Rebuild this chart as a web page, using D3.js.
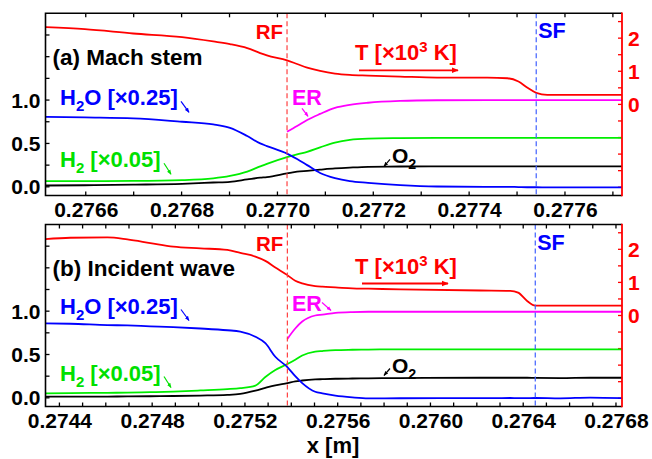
<!DOCTYPE html>
<html>
<head>
<meta charset="utf-8">
<script src="https://cdn.jsdelivr.net/npm/d3@7"></script>
<style>
body { margin: 0; background: #fff; }
svg text { font-family: "Liberation Sans", Arial, sans-serif; font-weight: bold; }
</style>
</head>
<body>
<div id="myfigure"></div>
<script>
// ---- panel (a) Mach stem ----
var xA   = [0.276517, 0.276598, 0.276699, 0.276801, 0.276866, 0.276901, 0.276937, 0.276964, 0.276978, 0.277020,
            0.277041, 0.277062, 0.277089, 0.277120, 0.277151, 0.277189, 0.277256, 0.277333, 0.277438, 0.277480,
            0.277503, 0.277521, 0.277540, 0.277563, 0.277719];
var tA   = [2.33, 2.27, 2.14, 2.03, 1.90, 1.82, 1.70, 1.55, 1.48, 1.33,
            1.22, 1.11, 1.01, 0.93, 0.89, 0.87, 0.84, 0.81, 0.81, 0.79,
            0.69, 0.51, 0.35, 0.29, 0.29];
var h2oA = [0.807, 0.80, 0.79, 0.75, 0.72, 0.68, 0.585, 0.50, 0.47, 0.383,
            0.32, 0.25, 0.16, 0.10, 0.065, 0.046, 0.02, 0.004, 0.0, 0.0,
            -0.003, -0.005, -0.005, -0.006, -0.007];
var h2A  = [0.066, 0.066, 0.068, 0.077, 0.097, 0.125, 0.175, 0.235, 0.265, 0.343,
            0.375, 0.404, 0.455, 0.51, 0.542, 0.556, 0.562, 0.565, 0.565, 0.565,
            0.565, 0.565, 0.565, 0.565, 0.565];
var o2A  = [0.015, 0.018, 0.025, 0.035, 0.050, 0.058, 0.085, 0.105, 0.113, 0.155,
            0.175, 0.185, 0.198, 0.212, 0.222, 0.231, 0.234, 0.235, 0.235, 0.235,
            0.235, 0.235, 0.235, 0.235, 0.235];
var erA  = [null, null, null, null, null, null, null, null, null, 0.634,
            0.70, 0.77, 0.84, 0.91, 0.945, 0.969, 0.99, 0.998, 1.0, 1.0,
            1.0, 1.0, 1.0, 1.0, 1.0];
var xDomainA = [0.276516, 0.277719];
var xTicksA  = [0.2766, 0.2768, 0.2770, 0.2772, 0.2774, 0.2776];
var rfA = 0.27702, sfA = 0.27754;

// ---- panel (b) Incident wave ----
var xB   = [0.274340, 0.274447, 0.274607, 0.274693, 0.274792, 0.274891, 0.275008, 0.275124, 0.275180, 0.275245,
            0.275288, 0.275331, 0.275383, 0.275417, 0.275447, 0.275503, 0.275534, 0.275590, 0.275663, 0.275732,
            0.275870, 0.276215, 0.276344, 0.276378, 0.276417, 0.276452, 0.276559, 0.276689, 0.276827];
var tB   = [2.31, 2.35, 2.36, 2.30, 2.19, 2.08, 2.03, 1.98, 1.89, 1.78,
            1.65, 1.45, 1.22, 1.05, 0.97, 0.89, 0.87, 0.85, 0.82, 0.81,
            0.79, 0.755, 0.745, 0.69, 0.44, 0.30, 0.30, 0.30, 0.30];
var h2oB = [0.86, 0.855, 0.84, 0.835, 0.825, 0.815, 0.80, 0.78, 0.765, 0.705,
            0.63, 0.474, 0.355, 0.25, 0.17, 0.07, 0.052, 0.025, 0.005, -0.006,
            -0.005, -0.004, -0.002, -0.004, -0.003, -0.002, -0.006, 0.003, -0.003];
var h2B  = [0.052, 0.055, 0.058, 0.060, 0.065, 0.072, 0.085, 0.100, 0.112, 0.142,
            0.24, 0.32, 0.39, 0.44, 0.488, 0.532, 0.54, 0.551, 0.555, 0.557,
            0.559, 0.559, 0.559, 0.559, 0.559, 0.559, 0.559, 0.559, 0.559];
var o2B  = [0.013, 0.014, 0.015, 0.016, 0.018, 0.021, 0.026, 0.034, 0.045, 0.082,
            0.115, 0.145, 0.17, 0.19, 0.20, 0.212, 0.215, 0.22, 0.223, 0.225,
            0.228, 0.232, 0.232, 0.232, 0.232, 0.230, 0.228, 0.232, 0.232];
var erB  = [null, null, null, null, null, null, null, null, null, null,
            null, null, 0.68, 0.80, 0.88, 0.95, 0.96, 0.98, 0.99, 0.993,
            0.993, 0.993, 0.993, 0.993, 0.993, 0.993, 0.993, 0.993, 0.993];
var xDomainB = [0.27434, 0.276826];
var xTicksB  = [0.2744, 0.2748, 0.2752, 0.2756, 0.2760, 0.2764, 0.2768];
var rfB = 0.275383, sfB = 0.276452;

// shared axes
var leftDomain  = [-0.1, 2.0];
var leftTicks   = [0, 0.25, 0.5, 0.75, 1.0, 1.25, 1.5, 1.75];
var leftLabels  = [0, 0.5, 1.0];
var rightDomain = [-2.75, 2.75];
var rightTicks  = [-2.5, -2, -1.5, -1, -0.5, 0, 0.5, 1, 1.5, 2, 2.5];
var rightLabels = [0, 1, 2];

var width = 652, height = 459;
var plotLeft = 45.5, plotRight = 622;

var svg = d3.select("#myfigure").append("svg")
    .attr("width", width)
    .attr("height", height);

// arrow heads, one per colour
var defs = svg.append("defs");
["#ff0000", "#0000ff", "#00e000", "#ff00ff", "#000000"].forEach(function(c) {
    defs.append("marker")
        .attr("id", "arr" + c.slice(1))
        .attr("viewBox", "0 0 10 10")
        .attr("refX", 9).attr("refY", 5)
        .attr("markerWidth", 4).attr("markerHeight", 4)
        .attr("orient", "auto")
        .append("path")
        .attr("d", "M0,1 L10,5 L0,9 z")
        .attr("fill", c);
});

function arrow(g, x1, y1, x2, y2, color, sw) {
    g.append("line")
        .attr("x1", x1).attr("y1", y1).attr("x2", x2).attr("y2", y2)
        .attr("stroke", color)
        .attr("stroke-width", sw || 1.3)
        .attr("marker-end", "url(#arr" + color.slice(1) + ")");
}

// text with subscript / superscript pieces: [text, shift]
function label(g, x, y, parts, color, size, anchor) {
    var t = g.append("text")
        .attr("x", x).attr("y", y)
        .attr("fill", color)
        .attr("font-size", size)
        .attr("text-anchor", anchor || "start");
    var cur = 0;
    parts.forEach(function(p) {
        var shift = p[1] || 0;
        t.append("tspan")
            .attr("dy", shift - cur)
            .attr("font-size", shift ? size * 0.68 : size)
            .text(p[0]);
        cur = shift;
    });
    return t;
}

function drawPanel(o) {
    var top = o.top, bottom = o.bottom;
    var xScale = d3.scaleLinear().domain(o.xDomain).range([plotLeft, plotRight]);
    var yScale = d3.scaleLinear().domain(leftDomain).range([bottom, top]);
    var tScale = d3.scaleLinear().domain(rightDomain).range([bottom, top]);

    var g = svg.append("g");

    // minor x ticks every 0.0001
    var minor = d3.range(Math.ceil(o.xDomain[0] * 1e4), Math.floor(o.xDomain[1] * 1e4) + 1)
        .map(function(d) { return d / 1e4; });

    var xAxis = d3.axisBottom(xScale).tickValues(o.xTicks)
        .tickFormat(d3.format(".4f")).tickSize(0).tickPadding(7);
    var xg = g.append("g")
        .attr("transform", "translate(0," + bottom + ")")
        .call(xAxis);
    xg.select(".domain").remove();
    xg.selectAll("text").attr("font-size", 21).attr("fill", "#000");

    // ticks along bottom and top spines (inward)
    g.selectAll(".tb").data(minor).enter().append("line")
        .attr("x1", function(d) { return xScale(d); }).attr("x2", function(d) { return xScale(d); })
        .attr("y1", bottom).attr("y2", bottom - 4)
        .attr("stroke", "#000").attr("stroke-width", 1.3);
    g.selectAll(".tt").data(minor).enter().append("line")
        .attr("x1", function(d) { return xScale(d); }).attr("x2", function(d) { return xScale(d); })
        .attr("y1", top).attr("y2", top + 4)
        .attr("stroke", "#000").attr("stroke-width", 1.3);

    // left axis
    g.selectAll(".tl").data(leftTicks).enter().append("line")
        .attr("x1", plotLeft).attr("x2", plotLeft + 4)
        .attr("y1", function(d) { return yScale(d); }).attr("y2", function(d) { return yScale(d); })
        .attr("stroke", "#000").attr("stroke-width", 1.3);
    g.selectAll(".ll").data(leftLabels).enter().append("text")
        .attr("x", plotLeft - 5)
        .attr("y", function(d) { return yScale(d); })
        .attr("dy", "0.36em")
        .attr("text-anchor", "end")
        .attr("font-size", 21)
        .text(d3.format(".1f"));

    // right axis (temperature)
    g.selectAll(".tr").data(rightTicks).enter().append("line")
        .attr("x1", plotRight).attr("x2", plotRight - 4)
        .attr("y1", function(d) { return tScale(d); }).attr("y2", function(d) { return tScale(d); })
        .attr("stroke", "#ff0000").attr("stroke-width", 1.3);
    g.selectAll(".rl").data(rightLabels).enter().append("text")
        .attr("x", plotRight + 6)
        .attr("y", function(d) { return tScale(d); })
        .attr("dy", "0.36em")
        .attr("font-size", 21)
        .attr("fill", "#ff0000")
        .text(function(d) { return d; });

    // curves
    var curve = d3.curveMonotoneX;
    function lineOn(ys, scale) {
        return d3.line()
            .defined(function(d, i) { return ys[i] !== null; })
            .x(function(d, i) { return xScale(o.x[i]); })
            .y(function(d, i) { return scale(ys[i]); })
            .curve(curve);
    }
    var series = [
        { v: o.o2,  s: yScale, c: "#000000" },
        { v: o.h2,  s: yScale, c: "#00ee00" },
        { v: o.h2o, s: yScale, c: "#0000ff" },
        { v: o.er,  s: yScale, c: "#ff00ff" },
        { v: o.t,   s: tScale, c: "#ff0000" }
    ];
    series.forEach(function(se) {
        g.append("path")
            .datum(o.x)
            .attr("d", lineOn(se.v, se.s))
            .attr("fill", "none")
            .attr("stroke", se.c)
            .attr("stroke-width", 1.8);
    });

    // front lines
    g.append("line")
        .attr("x1", xScale(o.rf)).attr("x2", xScale(o.rf))
        .attr("y1", top).attr("y2", bottom)
        .attr("stroke", "#ff4040").attr("stroke-width", 1.2)
        .attr("stroke-dasharray", "5,3");
    g.append("line")
        .attr("x1", xScale(o.sf)).attr("x2", xScale(o.sf))
        .attr("y1", top).attr("y2", bottom)
        .attr("stroke", "#4060ff").attr("stroke-width", 1.2)
        .attr("stroke-dasharray", "5,3");

    // frame
    g.append("path")
        .attr("d", "M" + plotRight + "," + top + "H" + plotLeft + "V" + bottom + "H" + plotRight)
        .attr("fill", "none").attr("stroke", "#000").attr("stroke-width", 1.6);
    g.append("line")
        .attr("x1", plotRight).attr("x2", plotRight)
        .attr("y1", top - 0.8).attr("y2", bottom + 0.8)
        .attr("stroke", "#ff0000").attr("stroke-width", 1.8);

    // annotations (positions relative to panel top)
    var a = o.ann;
    label(g, 52.5, top + a.title, [[o.title]], "#000", 22.5);
    label(g, 60, top + a.h2o, [["H"], ["2", 6], ["O [\u00d70.25]"]], "#0000ff", 22);
    arrow(g, 181, top + a.h2o - 4, 189, top + a.h2o + 7, "#0000ff", 1.2);
    label(g, 60, top + a.h2, [["H"], ["2", 6], [" [\u00d70.05]"]], "#00e000", 22);
    arrow(g, 164, top + a.h2 - 4, 171, top + a.h2 + 7, "#00e000", 1.2);
    label(g, xScale(o.rf) - 4, top + 26, [["RF"]], "#ff0000", 20.5, "end");
    label(g, xScale(o.sf) + 2, top + 25, [["SF"]], "#0000ff", 21.5);
    label(g, 292, top + a.er, [["ER"]], "#ff00ff", 21.5);
    arrow(g, a.erArrow[0], top + a.erArrow[1], a.erArrow[2], top + a.erArrow[3], "#ff00ff", 1.2);
    label(g, 355, top + a.t, [["T [\u00d710"], ["3", -8], [" K]"]], "#ff0000", 22);
    arrow(g, a.tArrow[0], top + a.t + 10, a.tArrow[1], top + a.t + 10, "#ff0000", 1.8);
    label(g, 392, top + a.o2, [["O"], ["2", 6]], "#000", 21);
    arrow(g, 390, top + a.o2 - 4, 384, top + a.o2 + 3, "#000000", 1.2);
}

drawPanel({
    top: 13.3, bottom: 195.5,
    x: xA, t: tA, h2o: h2oA, h2: h2A, o2: o2A, er: erA,
    xDomain: xDomainA, xTicks: xTicksA, rf: rfA, sf: sfA,
    title: "(a) Mach stem",
    ann: { title: 52, h2o: 92, h2: 154, er: 92, erArrow: [302, 95, 308, 103], t: 47, tArrow: [359, 458], o2: 150 }
});

drawPanel({
    top: 224.5, bottom: 406.5,
    x: xB, t: tB, h2o: h2oB, h2: h2B, o2: o2B, er: erB,
    xDomain: xDomainB, xTicks: xTicksB, rf: rfB, sf: sfB,
    title: "(b) Incident wave",
    ann: { title: 51, h2o: 89, h2: 156, er: 86, erArrow: [322, 78, 331, 86], t: 49, tArrow: [362, 448], o2: 148 }
});

// x axis title
svg.append("text")
    .attr("x", 333).attr("y", 453)
    .attr("text-anchor", "middle")
    .attr("font-size", 22)
    .text("x [m]");
</script>
</body>
</html>
